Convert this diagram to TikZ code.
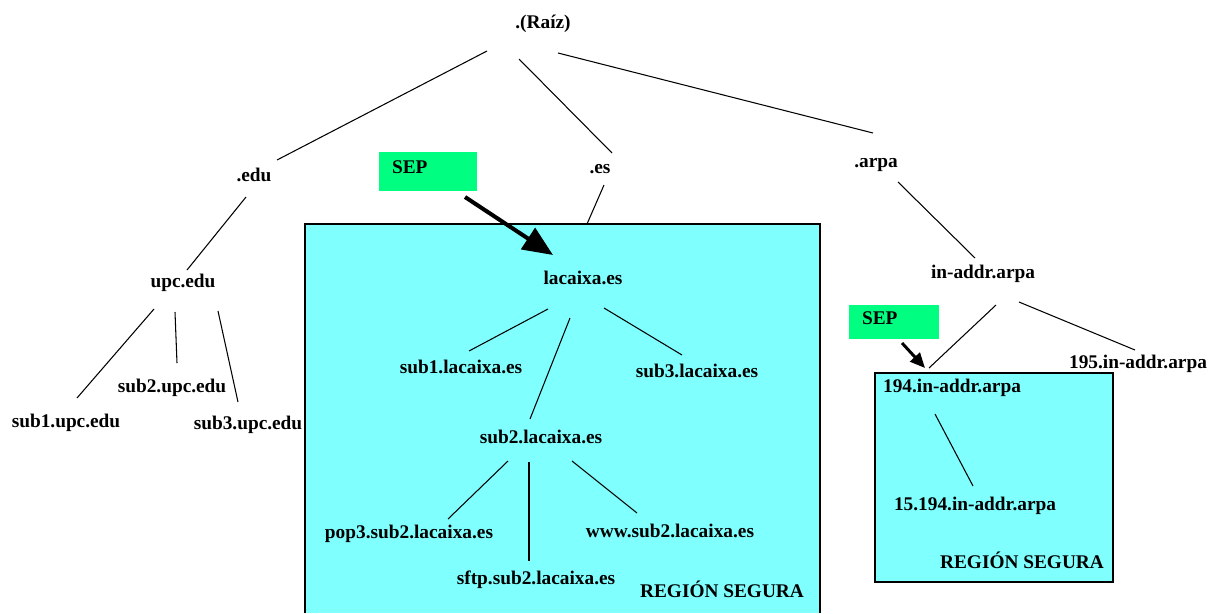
\documentclass[tikz,border=0pt]{standalone}
\usepackage{fontspec}
\setmainfont{Liberation Serif}
\usetikzlibrary{arrows.meta}
\definecolor{zona}{RGB}{128,255,255}
\definecolor{sepverde}{RGB}{0,255,128}

\begin{document}
\begin{tikzpicture}[x=0.02cm,y=-0.02cm,
  every node/.style={font=\fontsize{11}{13}\selectfont\bfseries, inner sep=0pt},
  link/.style={line width=0.6pt},
  sepbox/.style={fill=sepverde, align=left, inner xsep=0.26cm, text depth=5pt},
  sepflecha/.style={line width=2.3pt, -{Triangle[length=0.6cm,width=0.5cm]}}]
\useasboundingbox (0,0) rectangle (1216,613);

\fill[zona] (305,224) rectangle (820,613);
\draw[line width=1pt] (305,613) -- (305,224) -- (820,224) -- (820,613);
\filldraw[fill=zona, line width=1pt] (875,373) rectangle (1113,582);

\node (root) at (543,24) {.(Raíz)};
\node (edu) at (254,175) {.edu};
\node (es) at (600,169) {.es};
\node (arpa) at (876,165) {.arpa};

\node (upc) at (183,283) {upc.edu};
\node (s1u) at (66,423) {sub1.upc.edu};
\node (s2u) at (172,388) {sub2.upc.edu};
\node (s3u) at (248,425) {sub3.upc.edu};

\node (lac) at (583,278) {lacaixa.es};
\node (s1l) at (461,367) {sub1.lacaixa.es};
\node (s2l) at (541,437) {sub2.lacaixa.es};
\node (s3l) at (697,371) {sub3.lacaixa.es};
\node (pop) at (409,534) {pop3.sub2.lacaixa.es};
\node (sftp) at (536,580) {sftp.sub2.lacaixa.es};
\node (www) at (670,531) {www.sub2.lacaixa.es};
\node (reg1) at (722,589) {REGIÓN SEGURA};

\node (inaddr) at (983,274) {in-addr.arpa};
\node (a194) at (952,388) {194.in-addr.arpa};
\node (a195) at (1138,364) {195.in-addr.arpa};
\node (a15) at (975,506) {15.194.in-addr.arpa};
\node (reg2) at (1022,560) {REGIÓN SEGURA};

\node (sep1) [sepbox, text width=1.44cm, minimum height=0.78cm] at (428,171.5) {SEP};
\node (sep2) [sepbox, text width=1.28cm, minimum height=0.68cm] at (894,322) {SEP};

\draw[link] ([shift={(-56,27)}]root.center) -- ([shift={(23,-15)}]edu.center);
\draw[link] ([shift={(-24,35)}]root.center) -- ([shift={(12,-16)}]es.center);
\draw[link] ([shift={(15,29)}]root.center) -- ([shift={(-3,-32)}]arpa.center);
\draw[link] ([shift={(-8,22)}]edu.center) -- ([shift={(4,-13)}]upc.center);
\draw[link] ([shift={(4,16)}]es.center) -- ([shift={(4,-54)}]lac.center);
\draw[link] ([shift={(22,17)}]arpa.center) -- ([shift={(-8,-16)}]inaddr.center);

\draw[link] ([shift={(-29,26)}]upc.center) -- ([shift={(11,-25)}]s1u.center);
\draw[link] ([shift={(-8,29)}]upc.center) -- ([shift={(5,-25)}]s2u.center);
\draw[link] ([shift={(35,28)}]upc.center) -- ([shift={(-10,-23)}]s3u.center);

\draw[link] ([shift={(-35,31)}]lac.center) -- ([shift={(8,-16)}]s1l.center);
\draw[link] ([shift={(-13,40)}]lac.center) -- ([shift={(-11,-18)}]s2l.center);
\draw[link] ([shift={(21,30)}]lac.center) -- ([shift={(-15,-16)}]s3l.center);
\draw[link] ([shift={(-33,24)}]s2l.center) -- ([shift={(39,-15)}]pop.center);
\draw[link] ([shift={(-12,25)}]s2l.center) -- ([shift={(-7,-19)}]sftp.center);
\draw[link] ([shift={(31,24)}]s2l.center) -- ([shift={(-33,-18)}]www.center);

\draw[link] ([shift={(13,31)}]inaddr.center) -- ([shift={(-23,-20)}]a194.center);
\draw[link] ([shift={(36,28)}]inaddr.center) -- ([shift={(-3,-14)}]a195.center);
\draw[link] ([shift={(-17,26)}]a194.center) -- ([shift={(-2,-20)}]a15.center);

\draw[sepflecha] ([shift={(37,25.5)}]sep1.center) -- ([shift={(-30,-23)}]lac.center);
\draw[sepflecha, line width=1.7pt, -{Triangle[length=0.3cm,width=0.26cm]}] ([shift={(8,21)}]sep2.center) -- ([shift={(-27,-20)}]a194.center);
\end{tikzpicture}
\end{document}
